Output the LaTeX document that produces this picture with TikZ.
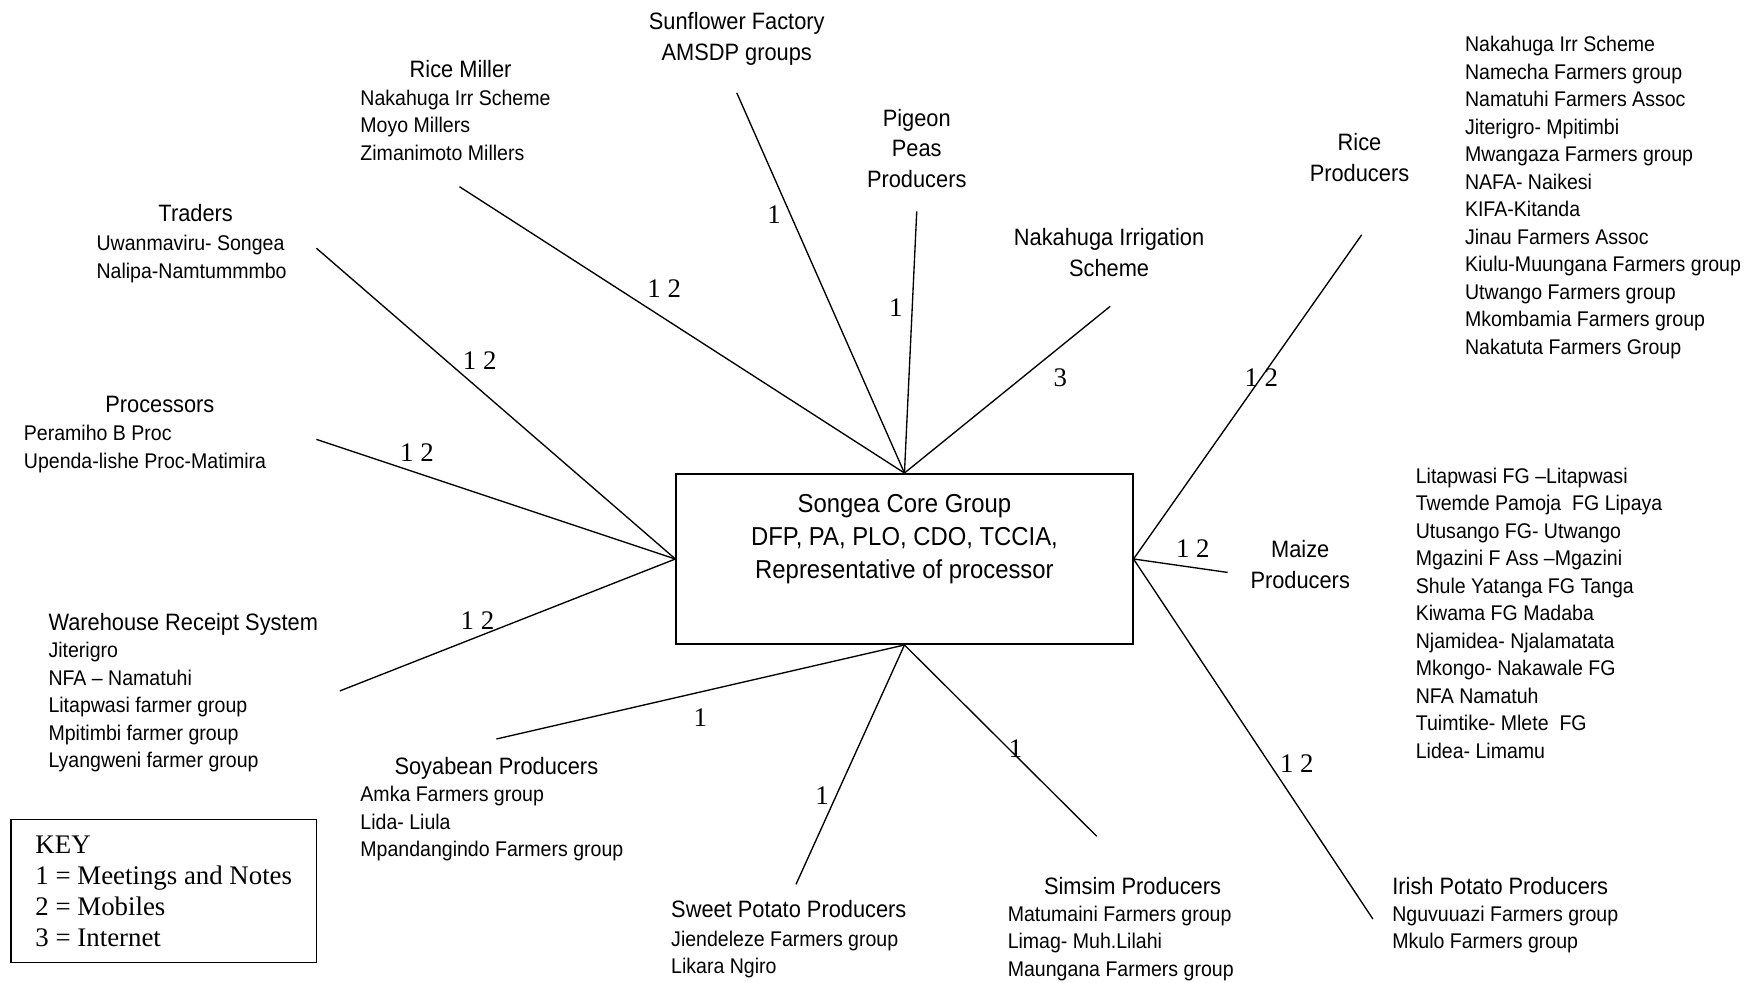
\documentclass[tikz,border=0pt]{standalone}
\usepackage{fontspec}
\setmainfont{Liberation Serif}
\setsansfont{Liberation Sans}[FakeStretch=0.92]
\usetikzlibrary{positioning}

\begin{document}
\begin{tikzpicture}[x=0.5pt,y=-0.5pt,
    grouptitle/.style={inner sep=0pt,align=center,anchor=north,
        font=\sffamily\fontsize{10.6}{13.75}\selectfont},
    grouplist/.style={inner sep=0pt,align=left,anchor=north west,
        font=\sffamily\fontsize{9.5}{12.3}\selectfont},
    linkline/.style={line width=0.6pt},
    linklabel/.style={inner sep=1pt,font=\fontsize{12}{14}\selectfont}]
\useasboundingbox (0,0) rectangle (1568,879);

\node [draw,line width=0.9pt,minimum width=204pt,minimum height=76pt,inner sep=0pt]
    (core) at (809,500) {};
\node [below=9.5pt of core.north,inner sep=0pt,align=center,
    font=\sffamily\fontsize{11.6}{14.75}\selectfont] (coretext)
    {Songea Core Group\\ DFP, PA, PLO, CDO, TCCIA,\\ Representative of processor};

\node [grouptitle]                   (sunflower)   at ( 659,  11) {Sunflower Factory\\ AMSDP groups};
\node [grouptitle]                   (ricemiller)  at ( 412,  54) {Rice Miller};
\node [grouplist]                    (ricemilllist) at ( 322,  80)
    {Nakahuga Irr Scheme\\ Moyo Millers\\ Zimanimoto Millers};
\node [grouptitle]                   (pigeon)      at ( 820,  97) {Pigeon\\ Peas\\ Producers};
\node [grouptitle]                   (nakahuga)    at ( 992, 204) {Nakahuga Irrigation\\ Scheme};
\node [grouptitle]                   (riceprod)    at (1216, 119) {Rice\\ Producers};
\node [grouplist]                    (riceprodlist) at (1310,  32)
    {Nakahuga Irr Scheme\\ Namecha Farmers group\\ Namatuhi Farmers Assoc\\
     Jiterigro- Mpitimbi\\ Mwangaza Farmers group\\ NAFA- Naikesi\\ KIFA-Kitanda\\
     Jinau Farmers Assoc\\ Kiulu-Muungana Farmers group\\ Utwango Farmers group\\
     Mkombamia Farmers group\\ Nakatuta Farmers Group};
\node [grouptitle]                   (traders)     at ( 175, 182) {Traders};
\node [grouplist]                    (traderslist) at (  86, 210)
    {Uwanmaviru- Songea\\ Nalipa-Namtummmbo};
\node [grouptitle]                   (processors)  at ( 143, 354) {Processors};
\node [grouplist]                    (processorslist) at (21, 380)
    {Peramiho B Proc\\ Upenda-lishe Proc-Matimira};
\node [grouptitle,anchor=north west] (warehouse)   at (  43, 548) {Warehouse Receipt System};
\node [grouplist]                    (warehouselist) at (43, 574)
    {Jiterigro\\ NFA – Namatuhi\\ Litapwasi farmer group\\ Mpitimbi farmer group\\
     Lyangweni farmer group};
\node [grouptitle]                   (maize)       at (1163, 483) {Maize\\ Producers};
\node [grouplist]                    (maizelist)   at (1266, 418)
    {Litapwasi FG –Litapwasi\\ Twemde Pamoja\ \ FG Lipaya\\ Utusango FG- Utwango\\
     Mgazini F Ass –Mgazini\\ Shule Yatanga FG Tanga\\ Kiwama FG Madaba\\
     Njamidea- Njalamatata\\ Mkongo- Nakawale FG\\ NFA Namatuh\\
     Tuimtike- Mlete\ \ FG\\ Lidea- Limamu};
\node [grouptitle]                   (soyabean)    at ( 444, 677) {Soyabean Producers};
\node [grouplist]                    (soyabeanlist) at ( 322, 703)
    {Amka Farmers group\\ Lida- Liula\\ Mpandangindo Farmers group};
\node [grouptitle,anchor=north west] (sweetpotato) at ( 600, 805) {Sweet Potato Producers};
\node [grouplist]                    (sweetpotatolist) at (600, 832)
    {Jiendeleze Farmers group\\ Likara Ngiro};
\node [grouptitle]                   (simsim)      at (1013, 784) {Simsim Producers};
\node [grouplist]                    (simsimlist)  at ( 901, 810)
    {Matumaini Farmers group\\ Limag- Muh.Lilahi\\ Maungana Farmers group};
\node [grouptitle,anchor=north west] (irish)       at (1245, 784) {Irish Potato Producers};
\node [grouplist]                    (irishlist)   at (1245, 810)
    {Nguvuuazi Farmers group\\ Mkulo Farmers group};

\node [draw,line width=0.7pt,minimum width=136.5pt,minimum height=64pt,
    align=left,font=\fontsize{12}{13.9}\selectfont] (key) at (146.5,797)
    {KEY\\ 1 = Meetings and Notes\\ 2 = Mobiles\\ 3 = Internet};

\coordinate (sunflowerend)   at ( 659,  83);
\coordinate (ricemillerend)  at ( 411, 167);
\coordinate (pigeonend)      at ( 820, 189);
\coordinate (nakahugaend)    at ( 993, 274);
\coordinate (tradersend)     at ( 283, 222);
\coordinate (processorsend)  at ( 283, 393);
\coordinate (warehouseend)   at ( 304, 618);
\coordinate (riceprodend)    at (1218, 210);
\coordinate (maizeend)       at (1098, 512);
\coordinate (irishend)       at (1228, 822);
\coordinate (soyabeanend)    at ( 444, 661);
\coordinate (sweetpotatoend) at ( 712, 791);
\coordinate (simsimend)      at ( 981, 748);

\draw [linkline] (node cs:name=core,anchor=north) --
    node[linklabel,pos=0.68,left=3pt] (lblsunflower) {1}
    (node cs:name=sunflowerend);
\draw [linkline] (node cs:name=core,anchor=north) --
    node[linklabel,pos=0.54,above=8pt] (lblricemiller) {1 2}
    (node cs:name=ricemillerend);
\draw [linkline] (node cs:name=core,anchor=north) --
    node[linklabel,pos=0.63,left=3pt] (lblpigeon) {1}
    (node cs:name=pigeonend);
\draw [linkline] (node cs:name=core,anchor=north) --
    node[linklabel,pos=0.68,below right=4pt] (lblnakahuga) {3}
    (node cs:name=nakahugaend);
\draw [linkline] (node cs:name=core,anchor=west) --
    node[linklabel,pos=0.6,above right] (lbltraders) {1 2}
    (node cs:name=tradersend);
\draw [linkline] (node cs:name=core,anchor=west) --
    node[linklabel,pos=0.72,above=4pt] (lblprocessors) {1 2}
    (node cs:name=processorsend);
\draw [linkline] (node cs:name=core,anchor=west) --
    node[linklabel,pos=0.59,above=2pt] (lblwarehouse) {1 2}
    (node cs:name=warehouseend);
\draw [linkline] (node cs:name=core,anchor=east) --
    node[linklabel,pos=0.56] (lblriceprod) {1 2}
    (node cs:name=riceprodend);
\draw [linkline] (node cs:name=core,anchor=east) --
    node[linklabel,pos=0.63,above=3pt] (lblmaize) {1 2}
    (node cs:name=maizeend);
\draw [linkline] (node cs:name=core,anchor=east) --
    node[linklabel,pos=0.6,above right] (lblirish) {1 2}
    (node cs:name=irishend);
\draw [linkline] (node cs:name=core,anchor=south) --
    node[linklabel,pos=0.5,below=6pt] (lblsoyabean) {1}
    (node cs:name=soyabeanend);
\draw [linkline] (node cs:name=core,anchor=south) --
    node[linklabel,pos=0.63,left=2pt] (lblsweetpotato) {1}
    (node cs:name=sweetpotatoend);
\draw [linkline] (node cs:name=core,anchor=south) --
    node[linklabel,pos=0.54,right=-1pt] (lblsimsim) {1}
    (node cs:name=simsimend);
\end{tikzpicture}
\end{document}
